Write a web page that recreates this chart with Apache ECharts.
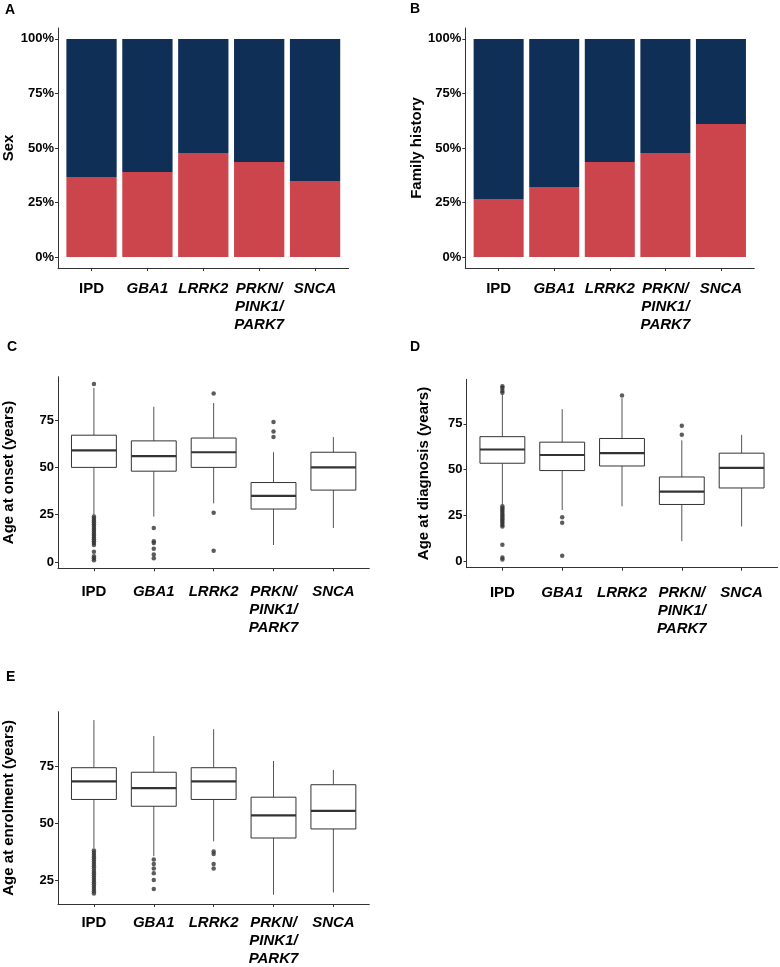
<!DOCTYPE html>
<html>
<head>
<meta charset="utf-8">
<script src="https://cdn.jsdelivr.net/npm/echarts@6/dist/echarts.min.js"></script>
<style>
  html, body { margin: 0; padding: 0; background: #fff; }
  #chart { width: 780px; height: 967px; }
</style>
</head>
<body>
<div id="chart"></div>
<script>
// groups on the x axis (index 0 is the only non-gene label)
const groups = ['IPD', 'GBA1', 'LRRK2', 'PRKN/\nPINK1/\nPARK7', 'SNCA'];

// A: sex, percent of each group
const sexFemale = [36.8, 39.0, 47.7, 43.4, 34.7];
const sexMale = [63.2, 61.0, 52.3, 56.6, 65.3];

// B: family history, percent of each group
const famHistYes = [26.4, 31.9, 43.8, 47.7, 61.0];
const famHistNo = [73.6, 68.1, 56.2, 52.3, 39.0];

// C-E: box stats [lower whisker, Q1, median, Q3, upper whisker] and outliers
const onsetBox = [
  [25, 50, 59, 67, 92],
  [24, 48, 56, 64, 82],
  [31, 50, 58, 65.5, 84],
  [9, 28, 35, 42, 58],
  [18, 38, 50, 58, 66]
];
const onsetOut = [
  [94, 24, 23, 22, 21, 20, 19, 18, 17, 16, 15, 14, 13, 12, 11, 10, 9, 5.5, 3, 2, 1],
  [18, 11, 10, 7, 4, 2],
  [89, 26, 6],
  [74, 69, 66],
  []
];

const diagBox = [
  [31, 53.5, 61, 68, 91],
  [28, 49.5, 58, 65, 83],
  [30, 52, 59, 67, 89],
  [11, 31, 38, 46, 66],
  [19, 40, 51, 59, 69]
];
const diagOut = [
  [95.5, 94.5, 93, 92, 30, 29, 28, 27, 26, 25, 24, 23, 22, 21, 20, 19, 9, 2, 1],
  [24, 21, 3],
  [90.5],
  [74, 69],
  []
];

const enrolBox = [
  [39, 60.5, 68.5, 74.5, 95.5],
  [35.5, 57.5, 65.5, 72.5, 88.5],
  [42, 60.5, 68.5, 74.5, 91.5],
  [18.5, 43.5, 53.5, 61.5, 77.5],
  [19.5, 47.5, 55.5, 67, 73.5]
];
const enrolOut = [
  [38, 37, 36, 35, 34, 33, 32, 31, 30, 29, 28, 27, 26, 25, 24, 23, 22, 21, 20, 19],
  [34, 32, 30, 28, 25, 21],
  [37.5, 36.5, 32, 30],
  [],
  []
];

const pctTicks = [0, 25, 50, 75, 100];
const ageTicks = [0, 25, 50, 75];
const enrolTicks = [25, 50, 75];

const RED = '#CC454D';
const NAVY = '#0F2F57';
const INK = '#333';
const FONT = '"Liberation Sans", Arial, sans-serif';

const chart = echarts.init(document.getElementById('chart'));
const groupIdx = groups.map((g, i) => i);

function groupLabel(v) {
  const i = Math.round(v);
  const name = groups[i];
  if (i === 0) return '{n|' + name + '}';
  return name.split('\n').map(l => '{g|' + l + '}').join('\n');
}

function xAxisFor(i, margin) {
  return {
    type: 'value', gridIndex: i, min: -0.6, max: 4.6,
    axisLine: { show: true, onZero: false, lineStyle: { color: INK, width: 1 } },
    axisTick: { show: true, length: 3, customValues: groupIdx, lineStyle: { color: INK } },
    axisLabel: {
      customValues: groupIdx, margin: margin, formatter: groupLabel,
      rich: {
        n: { fontFamily: FONT, fontSize: 15, fontWeight: 'bold', color: '#000', lineHeight: 18 },
        g: { fontFamily: FONT, fontSize: 15, fontWeight: 'bold', fontStyle: 'italic', color: '#000', lineHeight: 18 }
      }
    },
    splitLine: { show: false }
  };
}

function yAxisFor(i, name, min, max, ticks, gap, pct) {
  return {
    type: 'value', gridIndex: i, min: min, max: max,
    name: name, nameLocation: 'middle', nameGap: gap, nameMoveOverlap: false,
    nameTextStyle: { fontFamily: FONT, fontSize: 15, fontWeight: 'bold', color: '#000' },
    axisLine: { show: true, onZero: false, lineStyle: { color: INK, width: 1 } },
    axisTick: { show: true, length: 3, customValues: ticks, lineStyle: { color: INK } },
    axisLabel: {
      customValues: ticks, margin: 4,
      fontFamily: FONT, fontSize: 13, fontWeight: 'bold', color: '#000',
      formatter: v => pct ? Math.round(v) + '%' : String(Math.round(v))
    },
    splitLine: { show: false }
  };
}

// stacked 100% bars: each item is [group, bottom, top] on the value scale
function renderSeg(params, api) {
  const x = api.value(0);
  const a = api.coord([x - 0.45, api.value(1)]);
  const b = api.coord([x + 0.45, api.value(2)]);
  const top = Math.round(b[1]);
  const bottom = Math.round(a[1]);
  return {
    type: 'rect',
    shape: { x: a[0], y: top, width: b[0] - a[0], height: bottom - top },
    style: { fill: api.visual('color') }
  };
}

function stackSeries(i, lower, upper) {
  const low = lower.map((v, k) => [k, 0, v]);
  const up = upper.map((v, k) => [k, lower[k], lower[k] + v]);
  return [
    { type: 'custom', xAxisIndex: i, yAxisIndex: i, silent: true, itemStyle: { color: RED },
      data: low, encode: { x: 0, y: [1, 2] }, renderItem: renderSeg },
    { type: 'custom', xAxisIndex: i, yAxisIndex: i, silent: true, itemStyle: { color: NAVY },
      data: up, encode: { x: 0, y: [1, 2] }, renderItem: renderSeg }
  ];
}

function renderBox(params, api) {
  const x = api.value(0);
  const lo = api.coord([x, api.value(1)]);
  const q1 = api.coord([x, api.value(2)]);
  const med = api.coord([x, api.value(3)]);
  const q3 = api.coord([x, api.value(4)]);
  const hi = api.coord([x, api.value(5)]);
  const half = api.size([0.75, 0])[0] / 2;
  const cx = med[0];
  return {
    type: 'group',
    children: [
      { type: 'line', shape: { x1: cx, y1: lo[1], x2: cx, y2: q1[1] }, style: { stroke: '#555', lineWidth: 1 } },
      { type: 'line', shape: { x1: cx, y1: q3[1], x2: cx, y2: hi[1] }, style: { stroke: '#555', lineWidth: 1 } },
      { type: 'rect', shape: { x: cx - half, y: q3[1], width: half * 2, height: q1[1] - q3[1] },
        style: { fill: '#fff', stroke: INK, lineWidth: 1 } },
      { type: 'line', shape: { x1: cx - half, y1: med[1], x2: cx + half, y2: med[1] },
        style: { stroke: INK, lineWidth: 2.2 } }
    ]
  };
}

function boxSeries(i, stats) {
  return {
    type: 'custom', xAxisIndex: i, yAxisIndex: i, silent: true,
    data: stats.map((s, k) => [k].concat(s)),
    encode: { x: 0, y: [1, 2, 3, 4, 5] },
    renderItem: renderBox, z: 2
  };
}

function outlierSeries(i, outs) {
  const pts = [];
  outs.forEach((list, k) => list.forEach(v => pts.push([k, v])));
  return {
    type: 'scatter', xAxisIndex: i, yAxisIndex: i, silent: true,
    symbolSize: 4.5, itemStyle: { color: INK }, data: pts, z: 3
  };
}

function letter(t, left, top) {
  return { text: t, left: left, top: top, padding: 0,
    textStyle: { fontFamily: FONT, fontSize: 14, fontWeight: 'bold', color: '#000' } };
}

chart.setOption({
  animation: false,
  backgroundColor: '#fff',
  title: [
    letter('A', 5, 3), letter('B', 410, 2),
    letter('C', 7, 340), letter('D', 410, 340),
    letter('E', 6, 670)
  ],
  grid: [
    { left: 58, top: 28, width: 290.6, height: 240, outerBoundsMode: 'none' },
    { left: 465.3, top: 28, width: 289, height: 240, outerBoundsMode: 'none' },
    { left: 58, top: 376.7, width: 311.3, height: 191.6, outerBoundsMode: 'none' },
    { left: 466.5, top: 379.3, width: 311, height: 188.4, outerBoundsMode: 'none' },
    { left: 58, top: 711.7, width: 311.3, height: 192.3, outerBoundsMode: 'none' }
  ],
  xAxis: [
    xAxisFor(0, 12), xAxisFor(1, 12), xAxisFor(2, 15), xAxisFor(3, 16), xAxisFor(4, 10)
  ],
  yAxis: [
    yAxisFor(0, 'Sex', -5, 105, pctTicks, 42, true),
    yAxisFor(1, 'Family history', -5, 105, pctTicks, 41, true),
    yAxisFor(2, 'Age at onset (years)', -3.3, 97.9, ageTicks, 42, false),
    yAxisFor(3, 'Age at diagnosis (years)', -3.5, 99.3, ageTicks, 35, false),
    yAxisFor(4, 'Age at enrolment (years)', 14.4, 99.2, enrolTicks, 42, false)
  ],
  series: [].concat(
    stackSeries(0, sexFemale, sexMale),
    stackSeries(1, famHistYes, famHistNo),
    [
      boxSeries(2, onsetBox), outlierSeries(2, onsetOut),
      boxSeries(3, diagBox), outlierSeries(3, diagOut),
      boxSeries(4, enrolBox), outlierSeries(4, enrolOut)
    ]
  )
});
</script>
</body>
</html>
